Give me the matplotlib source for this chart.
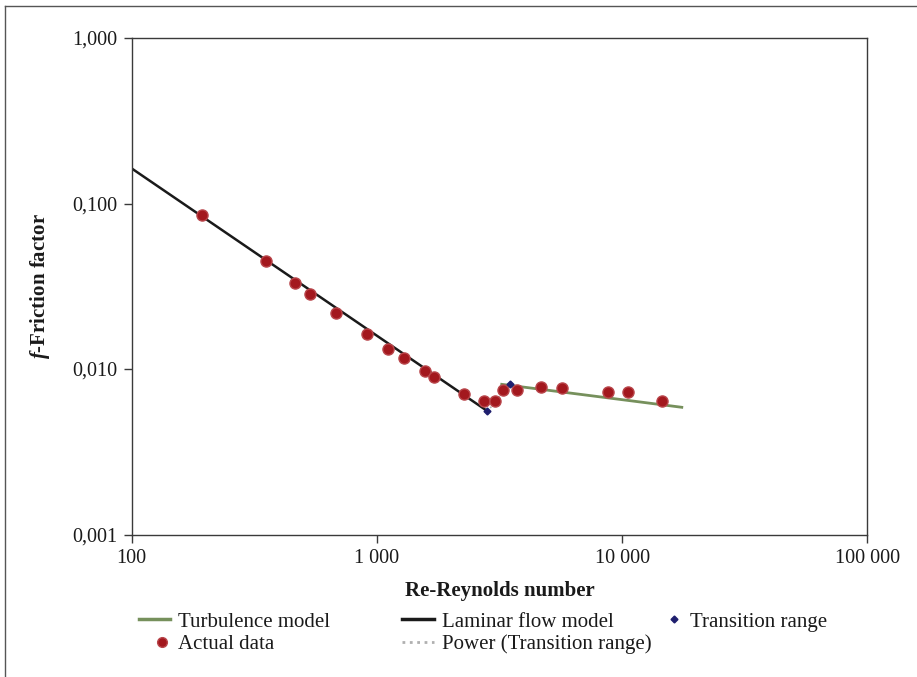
import matplotlib
matplotlib.use("Agg")
import matplotlib.pyplot as plt
from matplotlib.lines import Line2D
from matplotlib.legend_handler import HandlerBase

plt.rcParams['font.family'] = ['Liberation Serif', 'DejaVu Serif']
plt.rcParams['mathtext.fontset'] = 'custom'
plt.rcParams['mathtext.it'] = 'Liberation Serif:italic:bold'
plt.rcParams['mathtext.rm'] = 'Liberation Serif:bold'

# ---- data ----
actual_re = [193, 352, 465, 534, 684, 909, 1111, 1285, 1567, 1712, 2262,
             2744, 3034, 3271, 3741, 4674, 5675, 8770, 10610, 14520]
actual_f = [0.0852, 0.0449, 0.0332, 0.0283, 0.0217, 0.01634, 0.0132, 0.01166,
            0.00972, 0.00895, 0.00706, 0.00641, 0.00641, 0.00747, 0.00745,
            0.00782, 0.00765, 0.00723, 0.00722, 0.00643]

laminar_re = [100, 2823]
laminar_f = [0.163, 0.00557]

turb_re = [3231, 17520]
turb_f = [0.00808, 0.00587]

trans_re = [2823, 3503]
trans_f = [0.00555, 0.00808]

xticks = [100, 1000, 10000, 100000]
xticklabels = ['100', '1 000', '10 000', '100 000']
yticks = [0.001, 0.01, 0.1, 1.0]
yticklabels = ['0,001', '0,010', '0,100', '1,000']

# ---- figure ----
W, H = 917, 677
fig = plt.figure(figsize=(W / 100, H / 100), dpi=100)
ax = fig.add_axes([131.6 / W, 1 - 534.5 / H, (867.3 - 131.6) / W, (534.5 - 38) / H])

spine_col = '#3a3a3a'
red = '#A3181E'
red_edge = '#B9464B'
navy = '#1E1E6E'
green = '#76905C'

ax.plot(trans_re, trans_f, linestyle=':', color='#b0b0b0', lw=1.2, zorder=1,
        label='Power (Transition range)')
ax.plot(laminar_re, laminar_f, color='#1a1a1a', lw=1.8, zorder=2,
        label='Laminar flow model')
ax.plot(turb_re, turb_f, color=green, lw=2.0, zorder=2,
        label='Turbulence model')
ax.plot(actual_re, actual_f, linestyle='none', marker='o', ms=8,
        mfc=red, mec=red_edge, mew=1.0, zorder=3, label='Actual data')
ax.plot(trans_re, trans_f, linestyle='none', marker='D', ms=3.5,
        mfc=navy, mec=navy, zorder=4, label='Transition range')

ax.set_xscale('log')
ax.set_yscale('log')
ax.set_xlim(100, 100000)
ax.set_ylim(0.001, 1.0)
ax.set_xticks(xticks)
ax.set_xticklabels(xticklabels)
ax.set_yticks(yticks)
ax.set_yticklabels(yticklabels)
ax.minorticks_off()
ax.tick_params(axis='both', which='major', direction='out', length=5.5,
               width=1.0, color=spine_col, labelsize=14.5, pad=5,
               labelcolor='#1a1a1a')
for s in ax.spines.values():
    s.set_color(spine_col)
    s.set_linewidth(1.0)

ax.set_xlabel('Re-Reynolds number', fontsize=15, fontweight='bold',
              color='#1a1a1a', labelpad=9)
ax.set_ylabel(r'$f$-Friction factor', fontsize=15, fontweight='bold',
              color='#1a1a1a', labelpad=14)


# ---- legends ----
class RightMarkerHandler(HandlerBase):
    def create_artists(self, legend, orig_handle, xdescent, ydescent,
                       width, height, fontsize, trans):
        ln = Line2D([width - xdescent - 6], [height / 2 - ydescent],
                    linestyle='none', marker='o', ms=7, mfc=red, mec=red_edge,
                    mew=1.0, transform=trans)
        return [ln]


fs = 15
h_turb = Line2D([], [], color=green, lw=2.5)
h_act = Line2D([], [], linestyle='none', marker='o', ms=7, mfc=red, mec=red_edge)
h_lam = Line2D([], [], color='#1a1a1a', lw=2.5)
h_pow = Line2D([], [], color='#b0b0b0', lw=2.0, linestyle=':')
h_tr = Line2D([], [], linestyle='none', marker='D', ms=3.5, mfc=navy, mec=navy)

common = dict(frameon=False, fontsize=fs, loc='upper left', borderpad=0,
              borderaxespad=0, labelspacing=0.15, handletextpad=0.35)
top = 1 - 612 / H
leg1 = fig.legend([h_turb, h_act], ['Turbulence model', 'Actual data'],
                  bbox_to_anchor=(139 / W, top), handlelength=1.5,
                  handler_map={h_act: RightMarkerHandler()}, **common)
leg2 = fig.legend([h_lam, h_pow], ['Laminar flow model', 'Power (Transition range)'],
                  bbox_to_anchor=(402 / W, top), handlelength=1.55, **common)
leg3 = fig.legend([h_tr], ['Transition range'],
                  bbox_to_anchor=(666 / W, top), handlelength=0.8, **common)
for lg in (leg1, leg2, leg3):
    for t in lg.get_texts():
        t.set_color('#1a1a1a')

# ---- outer frame (left and top) ----
fig.add_artist(Line2D([5 / W, 5 / W], [0, 1 - 6 / H], transform=fig.transFigure,
                      color='#555555', lw=1.0))
fig.add_artist(Line2D([5 / W, 1], [1 - 6 / H, 1 - 6 / H], transform=fig.transFigure,
                      color='#555555', lw=1.0))

fig.savefig('out.png', dpi=100)
